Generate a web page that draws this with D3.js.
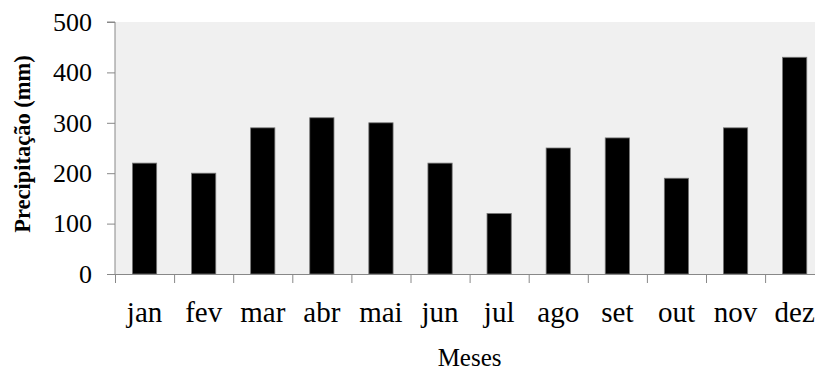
<!DOCTYPE html>
<html><head><meta charset="utf-8">
<script src="https://cdn.jsdelivr.net/npm/d3@7"></script>
<style>body{margin:0;background:#fff}svg{display:block}text{font-family:"Liberation Serif","Times New Roman",serif;fill:#000}</style>
</head><body>
<svg id="c" width="815" height="370"></svg>
<script>
const months = ["jan","fev","mar","abr","mai","jun","jul","ago","set","out","nov","dez"];
const precip = [220,200,290,310,300,220,120,250,270,190,290,430];
const yTicks = [0,100,200,300,400,500];

const svg = d3.select("#c");
const pL = 115, pR = 824.2, pT = 22, pB = 274;
const x = d3.scaleBand().domain(months).range([pL, pR]).paddingInner(0.59).paddingOuter(0.295);
const y = d3.scaleLinear().domain([0,500]).range([pB, pT]);

svg.append("rect").attr("x", pL).attr("y", pT).attr("width", pR-pL).attr("height", pB-pT).attr("fill", "#f0f0f0");

svg.selectAll("rect.bar").data(months).join("rect").attr("class","bar")
  .attr("x", d => x(d)).attr("width", x.bandwidth())
  .attr("y", (d,i) => y(precip[i])).attr("height", (d,i) => y(0) - y(precip[i]))
  .attr("fill", "#000").attr("stroke", "#777").attr("stroke-width", 0.8);

// y axis
const yAxis = svg.append("g").attr("transform", `translate(${pL},0)`)
  .call(d3.axisLeft(y).tickValues(yTicks).tickSize(8).tickPadding(15));
yAxis.select(".domain").attr("stroke", "#888").attr("d", `M-8,${pT}H0V${pB}`);
yAxis.selectAll(".tick line").attr("stroke", "#888");
yAxis.selectAll(".tick text").attr("font-size", 26).attr("font-family", "Liberation Serif");

// x axis line and boundary ticks
const step = x.step();
svg.append("line").attr("x1", pL-8).attr("x2", pR).attr("y1", pB+0.5).attr("y2", pB+0.5).attr("stroke", "#888");
const bounds = d3.range(months.length + 1);
svg.selectAll("line.xt").data(bounds).join("line").attr("class","xt")
  .attr("x1", i => pL + i*step + 0.5).attr("x2", i => pL + i*step + 0.5)
  .attr("y1", pB).attr("y2", pB + 9).attr("stroke", "#888");

svg.selectAll("text.xl").data(months).join("text").attr("class","xl")
  .attr("x", d => x(d) + x.bandwidth()/2).attr("y", 322)
  .attr("text-anchor", "middle").attr("font-size", 29).text(d => d);

svg.append("text").attr("x", (pL+pR)/2).attr("y", 366).attr("text-anchor","middle")
  .attr("font-size", 25).text("Meses");

svg.append("text").attr("transform", `translate(30,${(pT+pB)/2 - 4}) rotate(-90)`)
  .attr("text-anchor","middle").attr("font-size", 22.5).attr("font-weight","bold").text("Precipitação (mm)");
</script>
</body></html>
